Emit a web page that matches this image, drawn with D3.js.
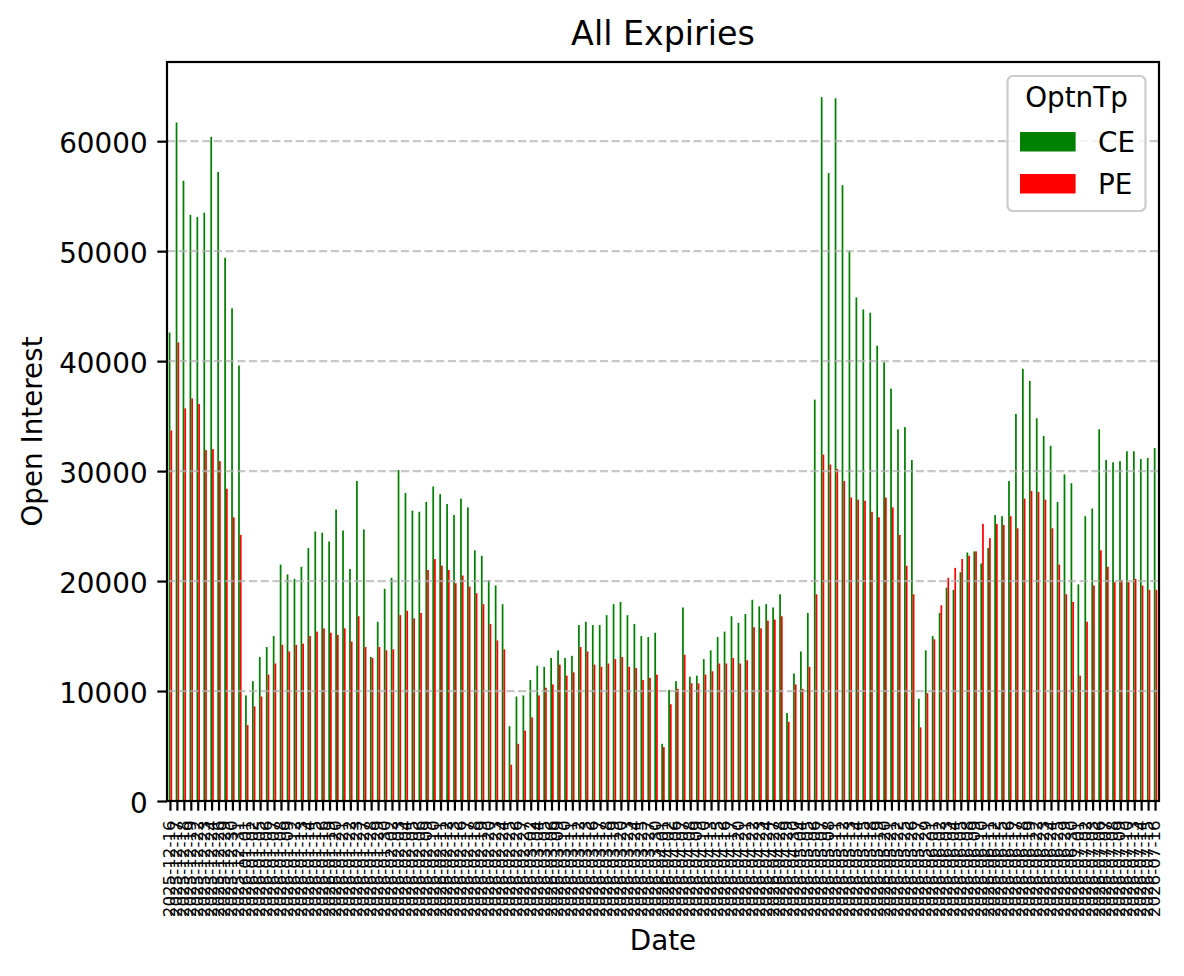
<!DOCTYPE html>
<html>
<head>
<meta charset="utf-8">
<title>All Expiries</title>
<script src="https://d3js.org/d3.v7.min.js"></script>
<style>
  body { margin: 0; background: #ffffff; }
  svg text { font-family: "DejaVu Sans", sans-serif; fill: #000; }
</style>
</head>
<body>
<svg id="chart" width="1184" height="976"></svg>
<script>
// ------------------------------ Data ------------------------------
var dates = [
	"2025-12-16","2025-12-17","2025-12-18","2025-12-19","2025-12-22","2025-12-23","2025-12-24","2025-12-26","2025-12-29","2025-12-30","2025-12-31",
	"2026-01-01","2026-01-02","2026-01-05","2026-01-06","2026-01-07","2026-01-08","2026-01-09","2026-01-12","2026-01-13","2026-01-14","2026-01-15","2026-01-16","2026-01-19","2026-01-20","2026-01-21","2026-01-22","2026-01-23","2026-01-27","2026-01-28","2026-01-29","2026-01-30",
	"2026-02-02","2026-02-03","2026-02-04","2026-02-05","2026-02-06","2026-02-09","2026-02-10","2026-02-11","2026-02-12","2026-02-13","2026-02-16","2026-02-17","2026-02-18","2026-02-19","2026-02-20","2026-02-23","2026-02-24","2026-02-25","2026-02-26","2026-02-27",
	"2026-03-02","2026-03-04","2026-03-05","2026-03-06","2026-03-09","2026-03-10","2026-03-11","2026-03-12","2026-03-13","2026-03-16","2026-03-17","2026-03-18","2026-03-19","2026-03-20","2026-03-23","2026-03-24","2026-03-25","2026-03-27","2026-03-30",
	"2026-04-01","2026-04-02","2026-04-06","2026-04-07","2026-04-08","2026-04-09","2026-04-10","2026-04-13","2026-04-15","2026-04-16","2026-04-17","2026-04-20","2026-04-21","2026-04-22","2026-04-23","2026-04-24","2026-04-27","2026-04-28","2026-04-29","2026-04-30",
	"2026-05-04","2026-05-05","2026-05-06","2026-05-07","2026-05-08","2026-05-11","2026-05-12","2026-05-13","2026-05-14","2026-05-15","2026-05-18","2026-05-19","2026-05-20","2026-05-21","2026-05-22","2026-05-25","2026-05-26","2026-05-27","2026-05-29",
	"2026-06-01","2026-06-02","2026-06-03","2026-06-04","2026-06-05","2026-06-08","2026-06-09","2026-06-10","2026-06-11","2026-06-12","2026-06-15","2026-06-16","2026-06-17","2026-06-18","2026-06-19","2026-06-22","2026-06-23","2026-06-24","2026-06-25","2026-06-29","2026-06-30",
	"2026-07-01","2026-07-02","2026-07-03","2026-07-06","2026-07-07","2026-07-08","2026-07-09","2026-07-10","2026-07-13","2026-07-14","2026-07-15","2026-07-16"
];

// Open interest, calls
var ceOI = [
	42600, 61700, 56400, 53300, 53100, 53500, 60400, 57200, 49400, 44800, 39600, 9600, 10900, 13100, 14000, 15000, 21500, 20600, 20200, 21300, 23000, 24500, 24400, 23600,
	26500, 24600, 21100, 29100, 24700, 13100, 16300, 19300, 20300, 30100, 28000, 26400, 26300, 27200, 28600, 27900, 27000, 26000, 27500, 26700, 22800, 22300, 20100, 19600,
	17900, 6800, 9500, 9600, 11000, 12300, 12200, 13000, 13700, 13000, 13200, 16000, 16300, 16000, 16000, 16900, 17900, 18100, 16900, 16100, 15000, 14900, 15300, 5200,
	10100, 10900, 17600, 11300, 11400, 12900, 13700, 14900, 15400, 16800, 16200, 17000, 18300, 17700, 17900, 17600, 18800, 8000, 11600, 13600, 17100, 36500, 64000, 57100,
	63900, 56000, 50000, 45800, 44700, 44400, 41400, 39900, 37500, 33800, 34000, 31000, 9300, 13700, 15000, 17100, 19400, 19200, 20800, 22600, 22700, 21600, 23000,
	26000, 25900, 29100, 35200, 39300, 38200, 34800, 33200, 32300, 27200, 29700, 28900, 19700, 25900, 26600, 33800, 31000, 30800, 30900, 31800, 31800, 31100, 31200, 32100
];

// Open interest, puts
var peOI = [
	33700, 41700, 35700, 36600, 36100, 31900, 32000, 30900, 28400, 25800, 24200, 6900, 8600, 9500, 11500, 12500, 14200, 13600, 14200, 14300, 15000, 15400, 15700, 15300,
	15100, 15700, 14500, 16800, 14000, 13000, 14000, 13700, 13800, 16900, 17300, 16600, 17100, 21000, 22000, 21400, 21000, 19800, 20500, 19500, 18900, 17900, 16100, 14600,
	13800, 3300, 5200, 6400, 7600, 9600, 10300, 10600, 12400, 11400, 11700, 14000, 13600, 12400, 12200, 12500, 12900, 13100, 12200, 12100, 11000, 11200, 11500, 4900,
	8800, 10200, 13300, 10700, 10700, 11500, 11800, 12500, 12500, 13000, 12500, 12800, 15800, 15700, 16400, 16500, 16800, 7200, 10600, 10200, 12200, 18800, 31500, 30600,
	30200, 29100, 27600, 27400, 27300, 26300, 25800, 27600, 26700, 24200, 21400, 18800, 6700, 9800, 14700, 17800, 20300, 21200, 22000, 22300, 22700, 25200, 23900,
	25200, 25100, 25900, 24800, 27500, 28200, 28100, 27400, 24800, 21500, 18800, 18100, 11400, 16300, 19600, 22800, 21300, 19900, 20100, 19900, 20200, 19600, 19200, 19200
];

var yTicks = [0, 10000, 20000, 30000, 40000, 50000, 60000];
var seriesNames = ["CE", "PE"];
var seriesColors = ["green", "red"];

// ------------------------------ Layout ------------------------------
var plotLeft = 167, plotRight = 1159, plotTop = 62, plotBottom = 801;
var lw = 2.2;          // 0.8pt at 200 dpi
var tickLen = 9.7;     // 3.5pt

var svg = d3.select("#chart");
svg.append("rect").attr("width", 1184).attr("height", 976).attr("fill", "#ffffff");

var rows = dates.map(function(d, i) { return { date: d, CE: ceOI[i], PE: peOI[i] }; });

var x = d3.scaleBand()
	.domain(dates)
	.range([plotLeft, plotRight])
	.paddingInner(0)
	.paddingOuter(0);

var yMax = d3.max(rows, function(d) { return Math.max(d.CE, d.PE); }) * 1.05;
var y = d3.scaleLinear()
	.domain([0, yMax])
	.range([plotBottom, plotTop]);

// Bars: each series takes a quarter of the band, both meeting at the band centre
var bw = x.bandwidth();
seriesNames.forEach(function(name, k) {
	svg.append("g")
		.selectAll("rect")
		.data(rows)
		.enter()
		.append("rect")
		.attr("x", function(d) { return x(d.date) + bw * 0.25 + k * bw * 0.25; })
		.attr("width", bw * 0.25)
		.attr("y", function(d) { return y(d[name]); })
		.attr("height", function(d) { return plotBottom - y(d[name]); })
		.attr("fill", seriesColors[k]);
});

// Dashed horizontal grid (drawn over the bars, like matplotlib's default)
svg.append("g")
	.selectAll("line")
	.data(yTicks.slice(1))
	.enter()
	.append("line")
	.attr("x1", plotLeft)
	.attr("x2", plotRight)
	.attr("y1", function(d) { return y(d); })
	.attr("y2", function(d) { return y(d); })
	.attr("stroke", "#b0b0b0")
	.attr("stroke-opacity", 0.7)
	.attr("stroke-width", lw)
	.attr("stroke-dasharray", "8.2,3.5");

// Y axis
var yAxis = svg.append("g")
	.attr("transform", "translate(" + plotLeft + ",0)")
	.call(d3.axisLeft(y).tickValues(yTicks).tickFormat(d3.format("d")).tickSize(tickLen).tickPadding(tickLen));
yAxis.select(".domain").remove();
yAxis.selectAll(".tick line").attr("stroke", "#000").attr("stroke-width", lw);
yAxis.selectAll(".tick text")
	.attr("dy", "0.4em")
	.style("font-size", "27.8px")
	.style("font-family", "DejaVu Sans, sans-serif");

// X axis with rotated date labels
var xAxis = svg.append("g")
	.attr("transform", "translate(0," + plotBottom + ")")
	.call(d3.axisBottom(x).tickSize(tickLen).tickPadding(tickLen));
xAxis.select(".domain").remove();
xAxis.selectAll(".tick line").attr("stroke", "#000").attr("stroke-width", lw);
xAxis.selectAll(".tick text")
	.attr("x", 0)
	.attr("y", 0)
	.attr("dy", "0.27em")
	.attr("transform", "translate(0," + (tickLen * 2) + ") rotate(-90)")
	.style("text-anchor", "end")
	.style("font-size", "16.67px")
	.style("font-family", "DejaVu Sans, sans-serif");

// Spines
svg.append("rect")
	.attr("x", plotLeft)
	.attr("y", plotTop)
	.attr("width", plotRight - plotLeft)
	.attr("height", plotBottom - plotTop)
	.attr("fill", "none")
	.attr("stroke", "#000")
	.attr("stroke-width", lw);

// Titles
svg.append("text")
	.attr("x", (plotLeft + plotRight) / 2)
	.attr("y", 45.3)
	.attr("text-anchor", "middle")
	.style("font-size", "33.3px")
	.text("All Expiries");

svg.append("text")
	.attr("x", (plotLeft + plotRight) / 2)
	.attr("y", 949.5)
	.attr("text-anchor", "middle")
	.style("font-size", "27.8px")
	.text("Date");

svg.append("text")
	.attr("transform", "translate(41.6," + ((plotTop + plotBottom) / 2) + ") rotate(-90)")
	.attr("text-anchor", "middle")
	.style("font-size", "27.8px")
	.text("Open Interest");

// ------------------------------ Legend ------------------------------
var legend = svg.append("g");
legend.append("rect")
	.attr("x", 1007.5)
	.attr("y", 76)
	.attr("width", 138)
	.attr("height", 135)
	.attr("rx", 5.5)
	.attr("fill", "#ffffff")
	.attr("fill-opacity", 0.8)
	.attr("stroke", "#cccccc")
	.attr("stroke-width", lw);

legend.append("text")
	.attr("x", 1076.5)
	.attr("y", 107)
	.attr("text-anchor", "middle")
	.style("font-size", "27.8px")
	.text("OptnTp");

seriesNames.forEach(function(name, k) {
	var rowY = 142 + k * 42;
	legend.append("rect")
		.attr("x", 1020)
		.attr("y", rowY - 10)
		.attr("width", 55.6)
		.attr("height", 19.5)
		.attr("fill", seriesColors[k]);
	legend.append("text")
		.attr("x", 1098)
		.attr("y", rowY + 10)
		.style("font-size", "27.8px")
		.text(name);
});
</script>
</body>
</html>
